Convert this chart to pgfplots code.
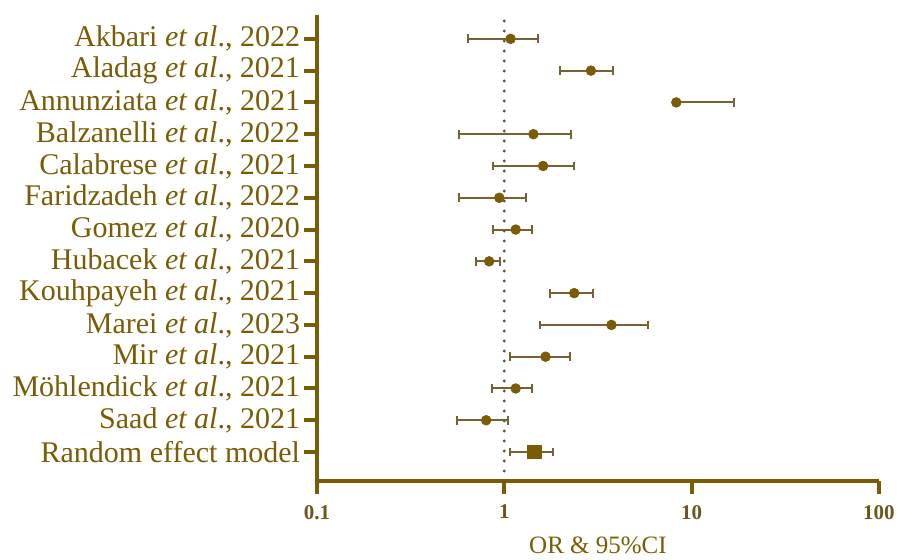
\documentclass[border=0pt]{standalone}
\usepackage{pgfplots}
\pgfplotsset{compat=1.18}
\usepackage{fontspec}
\setmainfont{Liberation Serif}
\definecolor{gold}{RGB}{122,92,5}
\definecolor{barc}{RGB}{118,98,52}
\definecolor{dotc}{RGB}{95,85,60}
\definecolor{tickc}{RGB}{105,88,30}
\begin{document}
\begin{tikzpicture}
\begin{axis}[
  scale only axis, width=281pt, height=233pt,
  xmode=log, log basis x=10, xmin=0.1, xmax=100,
  ymin=0.09, ymax=14.75,
  axis x line*=bottom, axis y line*=left,
  axis line style={line width=2pt, color=gold},
  tick style={line width=2pt, color=gold},
  tick align=outside, major tick length=6.5pt,
  xminorticks=false,
  xtick={0.1,1,10,100}, xticklabels={0.1,1,10,100},
  xticklabel style={font=\bfseries\fontsize{10.5}{11}\selectfont, text=tickc, yshift=-2pt},
  ytick={1,...,14},
  yticklabels={{Random effect model}, {Saad \emph{et al}., 2021}, {M\"ohlendick \emph{et al}., 2021}, {Mir \emph{et al}., 2021}, {Marei \emph{et al}., 2023}, {Kouhpayeh \emph{et al}., 2021}, {Hubacek \emph{et al}., 2021}, {Gomez \emph{et al}., 2020}, {Faridzadeh \emph{et al}., 2022}, {Calabrese \emph{et al}., 2021}, {Balzanelli \emph{et al}., 2022}, {Annunziata \emph{et al}., 2021}, {Aladag \emph{et al}., 2021}, {Akbari \emph{et al}., 2022}},
  yticklabel style={font=\fontsize{15}{16}\selectfont, text=gold, xshift=1.5pt},
  xlabel={OR \& 95\%CI},
  xlabel style={font=\fontsize{12.5}{14}\selectfont, text=gold, yshift=-2pt},
  clip=false,
]
% reference line at OR = 1
\addplot[dotc, line width=1.6pt, line cap=round, dash pattern=on 0pt off 5pt] coordinates {(1,0.09) (1,14.75)};
% confidence intervals
\addplot[barc, line width=1pt, mark=|, mark size=2.2pt, mark options={solid, line width=1pt}, unbounded coords=jump] coordinates {
(0.64,14) (1.52,14) (nan,nan)
(1.99,13) (3.82,13) (nan,nan)
(8.28,12) (16.8,12) (nan,nan)
(0.57,11) (2.28,11) (nan,nan)
(0.87,10) (2.35,10) (nan,nan)
(0.57,9) (1.31,9) (nan,nan)
(0.87,8) (1.41,8) (nan,nan)
(0.71,7) (0.945,7) (nan,nan)
(1.76,6) (2.99,6) (nan,nan)
(1.55,5) (5.87,5) (nan,nan)
(1.07,4) (2.25,4) (nan,nan)
(0.86,3) (1.41,3) (nan,nan)
(0.56,2) (1.04,2) (nan,nan)
(1.07,1) (1.83,1)
};
% point estimates
\addplot[only marks, mark=*, mark size=2.4pt, color=gold] coordinates {
(1.08,14) (2.90,13) (8.28,12) (1.43,11) (1.61,10) (0.94,9) (1.15,8)
(0.83,7) (2.36,6) (3.73,5) (1.66,4) (1.15,3) (0.80,2)
};
\addplot[only marks, mark=square*, mark size=3.4pt, color=gold] coordinates {(1.45,1)};
\end{axis}
\pgfresetboundingbox
\path ([shift={(-158.5pt,-39.5pt)}]current axis.south west) rectangle ([shift={(12.5pt,7.5pt)}]current axis.north east);
\end{tikzpicture}
\end{document}
